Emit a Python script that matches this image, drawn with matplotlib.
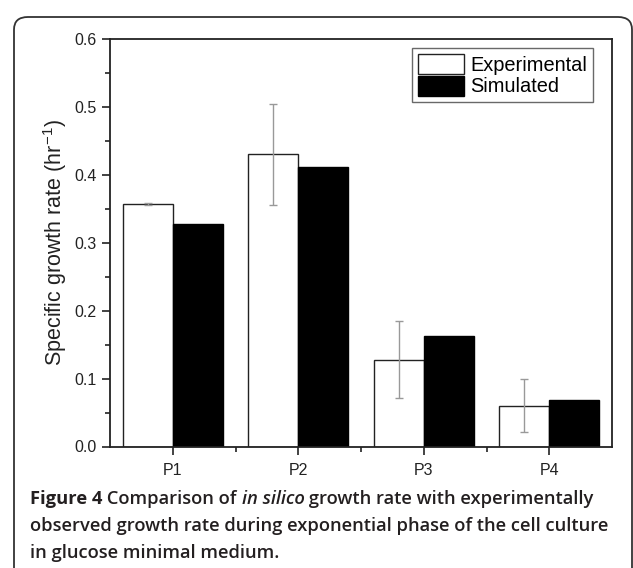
import matplotlib
matplotlib.use('Agg')
import matplotlib.pyplot as plt
import numpy as np
from matplotlib.patches import FancyBboxPatch, Patch
from matplotlib.ticker import MultipleLocator, FixedLocator, FormatStrFormatter

# data
groups = ['P1', 'P2', 'P3', 'P4']
experimental = [0.357, 0.430, 0.128, 0.060]
experimental_err = [0.002, 0.075, 0.057, 0.039]
simulated = [0.327, 0.412, 0.163, 0.068]

caption_lines = [
    [('Figure 4', 'bold', 'normal'), (' Comparison of ', 600, 'normal'),
     ('in silico', 600, 'italic'), (' growth rate with experimentally', 600, 'normal')],
    [('observed growth rate during exponential phase of the cell culture', 600, 'normal')],
    [('in glucose minimal medium.', 600, 'normal')],
]

W, H = 633, 568
fig = plt.figure(figsize=(W / 100, H / 100), dpi=100)
plt.rcParams['font.family'] = ['Liberation Sans', 'DejaVu Sans']
plt.rcParams['mathtext.fontset'] = 'custom'
plt.rcParams['mathtext.rm'] = 'Liberation Sans'

# rounded frame around figure + caption
frame = FancyBboxPatch((14 / W, -0.2), (632 - 14) / W, (H - 17) / H + 0.2,
                       boxstyle='round,pad=0,rounding_size=0.022',
                       transform=fig.transFigure, fill=False,
                       edgecolor='#333333', linewidth=1.3)
fig.patches.append(frame)

ax = fig.add_axes([110 / W, (H - 446.5) / H, (612 - 110) / W, (446.5 - 39) / H])

x = np.arange(1, len(groups) + 1)
w = 0.4
ax.bar(x - w / 2, experimental, width=w, color='white', edgecolor='#222222',
       linewidth=1.0, zorder=2)
ax.bar(x + w / 2, simulated, width=w, color='black', edgecolor='black',
       linewidth=1.0, zorder=2)
ax.errorbar(x - w / 2, experimental, yerr=experimental_err, fmt='none',
            ecolor='#999999', elinewidth=1.0, capsize=3, capthick=1.0, zorder=3)

ax.set_xlim(0.5, 4.5)
ax.set_ylim(0, 0.6)
ax.set_xticks(x)
ax.set_xticklabels(groups)
ax.xaxis.set_minor_locator(FixedLocator([1.5, 2.5, 3.5]))
ax.yaxis.set_major_locator(MultipleLocator(0.1))
ax.yaxis.set_minor_locator(MultipleLocator(0.05))
ax.yaxis.set_major_formatter(FormatStrFormatter('%.1f'))
ax.tick_params(which='both', direction='out', width=1.2, color='#222222',
               labelsize=11.5, labelcolor='#222222')
ax.tick_params(which='major', length=6)
ax.tick_params(which='minor', length=3.5)
ax.tick_params(axis='x', pad=6)
for s in ax.spines.values():
    s.set_linewidth(1.3)
    s.set_color('#222222')
ax.set_ylabel('Specific growth rate (hr$^{-1}$)', fontsize=15.5, color='#222222', labelpad=4)

leg = ax.legend(handles=[Patch(facecolor='white', edgecolor='#222222', label='Experimental'),
                         Patch(facecolor='black', edgecolor='black', label='Simulated')],
                loc='upper right', bbox_to_anchor=(0.962, 0.978), fontsize=14.4,
                frameon=True, fancybox=False, edgecolor='#444444',
                handlelength=2.3, handleheight=1.15, handletextpad=0.3,
                labelspacing=0.05, borderpad=0.3, borderaxespad=0)
leg.get_frame().set_linewidth(1.0)

# caption with mixed styles, pieces placed one after another
renderer = fig.canvas.get_renderer()
cap_font = ['Open Sans', 'DejaVu Sans']


def place_line(parts, yy, size, draw=True):
    xp = 30
    made = []
    for txt, weight, style in parts:
        t = fig.text(xp / W, 1 - yy / H, txt, fontsize=size, family=cap_font,
                     weight=weight, style=style, color='#231f20', va='baseline')
        xp += t.get_window_extent(renderer=renderer).width
        made.append(t)
    if not draw:
        for t in made:
            t.remove()
    return xp - 30


# fit first caption line to the width it has in the figure (30 -> 598 px)
trial = 12.0
cap_size = trial * 568 / place_line(caption_lines[0], 504, trial, draw=False)

line_y = [504, 531, 558]
for parts, yy in zip(caption_lines, line_y):
    place_line(parts, yy, cap_size)

fig.savefig('out.png', dpi=100)
